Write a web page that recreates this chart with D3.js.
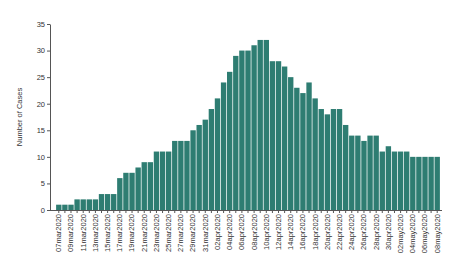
<!DOCTYPE html>
<html><head><meta charset="utf-8">
<script src="https://cdn.jsdelivr.net/npm/d3@7"></script>
<style>body{margin:0;background:#fff}svg{display:block}text{font-family:"Liberation Sans",Arial,sans-serif;fill:#333}</style>
</head><body><div id="c"></div>
<script>
const dates = ["07mar2020","08mar2020","09mar2020","10mar2020","11mar2020","12mar2020","13mar2020","14mar2020","15mar2020","16mar2020","17mar2020","18mar2020","19mar2020","20mar2020","21mar2020","22mar2020","23mar2020","24mar2020","25mar2020","26mar2020","27mar2020","28mar2020","29mar2020","30mar2020","31mar2020","01apr2020","02apr2020","03apr2020","04apr2020","05apr2020","06apr2020","07apr2020","08apr2020","09apr2020","10apr2020","11apr2020","12apr2020","13apr2020","14apr2020","15apr2020","16apr2020","17apr2020","18apr2020","19apr2020","20apr2020","21apr2020","22apr2020","23apr2020","24apr2020","25apr2020","26apr2020","27apr2020","28apr2020","29apr2020","30apr2020","01may2020","02may2020","03may2020","04may2020","05may2020","06may2020","07may2020","08may2020"];
const cases = [1,1,1,2,2,2,2,3,3,3,6,7,7,8,9,9,11,11,11,13,13,13,15,16,17,19,21,24,26,29,30,30,31,32,32,28,28,27,25,23,22,24,21,19,18,19,19,16,14,14,13,14,14,11,12,11,11,11,10,10,10,10,10];
const yTicks = [0,5,10,15,20,25,30,35];
const yTitle = "Number of Cases";

const W = 474, H = 274;
const svg = d3.select("#c").append("svg").attr("width", W).attr("height", H);
const x = d3.scaleBand().domain(dates).range([50, 446]).paddingInner(0.12).paddingOuter(1.0);
const y = d3.scaleLinear().domain([0, 35]).range([210, 24]);

svg.append("g").selectAll("rect").data(cases).join("rect")
  .attr("x", (d, i) => x(dates[i]))
  .attr("width", x.bandwidth())
  .attr("y", d => y(d))
  .attr("height", d => y(0) - y(d))
  .attr("fill", "#2e7d72");

// y axis
const ya = svg.append("g").attr("transform", "translate(50,0)")
  .call(d3.axisLeft(y).tickValues(yTicks).tickSize(3).tickSizeOuter(0).tickPadding(2));
ya.select(".domain").attr("stroke", "#555");
ya.selectAll(".tick line").attr("stroke", "#555");
ya.selectAll("text").style("font-size", "7.5px").attr("fill", "#333");

// x axis
const xa = svg.append("g").attr("transform", "translate(0,210)")
  .call(d3.axisBottom(x).tickSize(3).tickSizeOuter(0)
    .tickFormat((d, i) => i % 2 === 0 ? d : ""));
xa.select(".domain").remove();
xa.append("line").attr("x1", 50).attr("x2", 442).attr("y1", 0.5).attr("y2", 0.5).attr("stroke", "#555");
xa.selectAll(".tick line").attr("stroke", "#555");
xa.selectAll("text").style("font-size", "7.5px").attr("fill", "#333")
  .attr("transform", "rotate(-90)").attr("text-anchor", "end")
  .attr("x", -4).attr("y", 0).attr("dy", "0.32em");

svg.append("text").attr("transform", "translate(22,117) rotate(-90)")
  .attr("text-anchor", "middle").style("font-size", "7.5px").text(yTitle);
</script></body></html>
